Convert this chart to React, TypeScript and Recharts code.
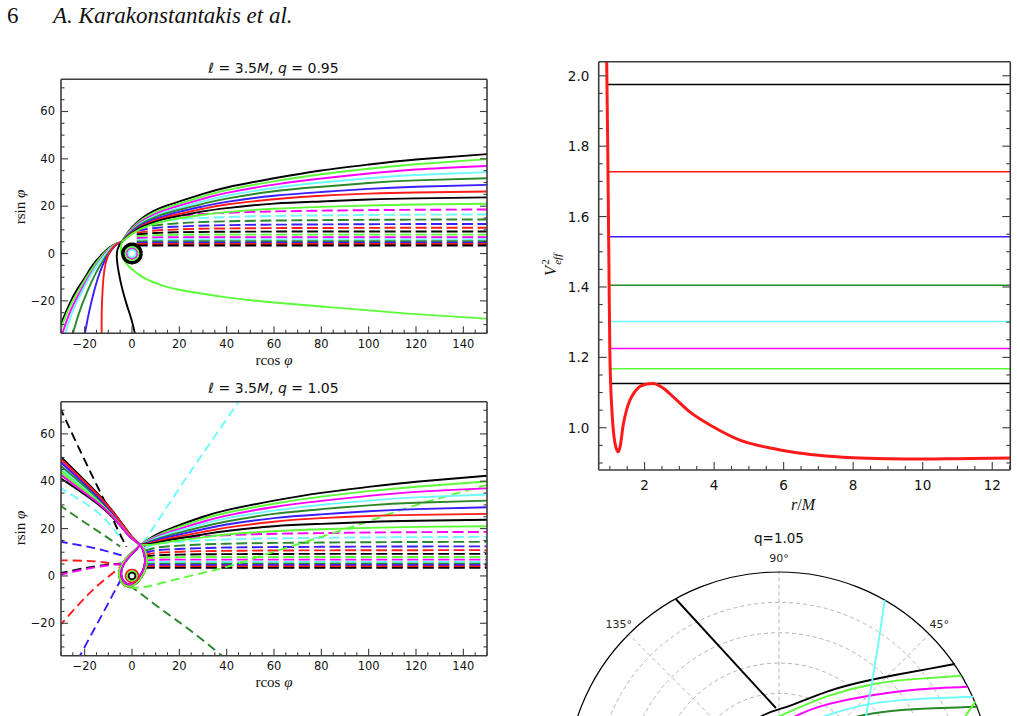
import React from 'react';
import { LineChart, Line, XAxis, YAxis, RadarChart, PolarGrid, PolarAngleAxis, PolarRadiusAxis } from 'recharts';

type P = [number, number];
type S = { pts: P[]; color: string; w?: number; dash?: string; curve?: any };

// ---------- colours ----------
const BLACK = '#000000';
const LIME = '#5cfc38';
const MAG = '#ff00ff';
const CYAN = '#6cfcfc';
const DGREEN = '#2a882a';
const BLUE = '#3a1cff';
const RED = '#ff1a1a';

// ---------- trajectory panels: axes ----------
const trajXDomain: [number, number] = [-30, 150];
const trajYDomain: [number, number] = [-33.7, 73.6];
const trajXMajor = [-20, 0, 20, 40, 60, 80, 100, 120, 140];
const trajXMinor = [-30, -25, -20, -15, -10, -5, 0, 5, 10, 15, 20, 25, 30, 35, 40, 45, 50, 55, 60, 65, 70, 75, 80, 85, 90, 95, 100, 105, 110, 115, 120, 125, 130, 135, 140, 145, 150];
const trajYMajor = [-20, 0, 20, 40, 60];
const trajYMinor = [-30, -25, -20, -15, -10, -5, 0, 5, 10, 15, 20, 25, 30, 35, 40, 45, 50, 55, 60, 65, 70];

// ---------- q = 0.95 ----------
const fanColors = [BLACK, LIME, MAG, CYAN, DGREEN, BLUE, RED, BLACK, LIME];
const q95FanX = [-4.4, -2, 0, 3, 7, 12, 20, 30, 40, 60, 80, 100, 120, 150];
const q95FanY = [
  [4.8, 8.5, 11, 14, 16.8, 19.3, 22, 25.2, 27.9, 31.8, 35.1, 37.6, 39.7, 42],
  [4.8, 8.3, 10.6, 13.4, 16, 18.4, 21.1, 24.1, 26.8, 30.5, 33.5, 35.8, 37.7, 39.9],
  [4.8, 8, 10.2, 12.9, 15.3, 17.6, 20.2, 23.1, 25.6, 29.1, 31.7, 33.8, 35.5, 37],
  [4.8, 7.8, 9.8, 12.4, 14.7, 16.9, 19.3, 22, 24.4, 27.7, 30, 31.8, 33.2, 34.4],
  [4.8, 7.6, 9.5, 11.9, 14.1, 16.2, 18.5, 21, 23.2, 26.3, 28.2, 29.8, 30.9, 31.8],
  [4.8, 7.4, 9.2, 11.4, 13.5, 15.4, 17.6, 19.9, 21.8, 24.4, 26, 27.3, 28.2, 29],
  [4.8, 7.2, 8.9, 11, 12.9, 14.7, 16.7, 18.9, 20.7, 22.9, 24.4, 25.3, 25.8, 26.2],
  [4.8, 7, 8.6, 10.6, 12.4, 14.1, 15.9, 17.8, 19.2, 21.1, 22, 22.8, 23.3, 23.7],
  [4.8, 6.8, 8.3, 10.1, 11.8, 13.3, 14.9, 16.4, 17.5, 18.9, 19.7, 20.3, 20.7, 21],
];
const q95InColors = [BLACK, LIME, MAG, CYAN, DGREEN, BLUE, RED, BLACK];
const q95InPts: P[][] = [
  [[-31, -32], [-26.5, -21.5], [-23.4, -15.5], [-20, -10.3], [-16.3, -4.5], [-12.5, -0.2], [-9.3, 2.7], [-6.5, 4.3], [-4.4, 4.8]],
  [[-30.5, -33], [-27, -24], [-23, -16.3], [-19, -9.7], [-15, -3.8], [-11, 0.9], [-7.5, 3.7], [-4.4, 4.8]],
  [[-29.8, -35], [-26.5, -25.5], [-22.5, -17.2], [-18.5, -10.2], [-14.5, -4.2], [-10.5, 0.9], [-7, 3.7], [-4.4, 4.8]],
  [[-28.5, -35], [-25.5, -25.5], [-21.5, -16.8], [-17.5, -9.3], [-13.5, -3.2], [-10, 1.1], [-7, 3.7], [-4.4, 4.8]],
  [[-25.3, -35], [-22.5, -25.5], [-19, -16.3], [-15.5, -8.7], [-12, -2.6], [-9, 1.4], [-6.5, 3.8], [-4.4, 4.8]],
  [[-20.1, -35], [-18.3, -25.5], [-16, -15.8], [-13.5, -7.7], [-11, -2.1], [-8.5, 1.7], [-6.5, 3.8], [-4.4, 4.8]],
  [[-12.8, -35], [-12.8, -25], [-12.4, -15], [-11.7, -7.2], [-10.4, -1.6], [-8.5, 2], [-6.5, 3.9], [-4.4, 4.8]],
  [[1.5, -35], [-0.2, -28], [-2.1, -22], [-4.1, -15], [-5.6, -8], [-6.4, -2], [-6, 2.1], [-4.4, 4.8]],
];
const q95LowerLime: P[] = [[-4.4, 4.8], [-4.6, 0.8], [-3.4, -2.6], [-1.2, -5.6], [2, -8.2], [6, -10.8], [12, -13.2], [20, -15.3], [40, -18.5], [60, -20.7], [80, -22.4], [100, -24], [120, -25.6], [150, -27.5]];

// dashed (nearly horizontal) trajectories, shared by both panels
const dashColors = [MAG, CYAN, DGREEN, BLUE, RED, BLACK, LIME, MAG, CYAN, DGREEN, BLUE, RED, BLACK];
const dashY = [
  [12.5, 14.6, 15.9, 17.2, 18.1, 18.6],
  [11.5, 13.3, 14.4, 15.4, 16.1, 16.5],
  [10.5, 11.9, 12.8, 13.6, 14.1, 14.4],
  [9.6, 10.8, 11.4, 12, 12.3, 12.5],
  [8.8, 9.7, 10.2, 10.6, 10.8, 10.9],
  [8.1, 8.7, 9, 9.2, 9.3, 9.3],
  [7.3, 7.7, 7.9, 8, 8, 8],
  [6.5, 6.8, 6.9, 6.9, 6.9, 6.9],
  [5.8, 5.9, 5.9, 5.9, 5.9, 5.9],
  [5.1, 5.2, 5.2, 5.2, 5.2, 5.2],
  [4.5, 4.6, 4.6, 4.6, 4.6, 4.6],
  [4, 4, 4, 4, 4, 4],
  [3.4, 3.4, 3.4, 3.4, 3.4, 3.4],
];
const q95DashX = [2, 10, 20, 40, 80, 150];
const q105DashX = [5, 10, 20, 40, 80, 150];

// small captured orbits (ring radii)
const unitCircle: P[] = [[1, 0], [0.866, 0.5], [0.5, 0.866], [0, 1], [-0.5, 0.866], [-0.866, 0.5], [-1, 0], [-0.866, -0.5], [-0.5, -0.866], [0, -1], [0.5, -0.866], [0.866, -0.5], [1, 0]];
const q95RingR = [4.1, 3.5, 2.7, 2.1, 1.6];
const q95RingC = [BLACK, BLACK, LIME, MAG, CYAN];
const q105RingR = [2.7, 2.0, 1.4];
const q105RingC = [RED, LIME, BLACK];

// ---------- q = 1.05 ----------
const bundleColors = [BLACK, LIME, MAG, CYAN, DGREEN, BLUE, RED, BLACK, LIME, MAG];
const q105InX = [-30, -22, -14, -8, -3, 0, 3.5];
const q105InY = [
  [50.3, 42.3, 34.2, 27.2, 20.5, 16.6, 13],
  [44.6, 38.3, 31.5, 25.4, 19.4, 16, 13],
  [48.4, 41, 33.3, 26.6, 20.1, 16.4, 13],
  [45.6, 39, 32, 25.7, 19.6, 16.1, 13],
  [46.4, 39.6, 32.4, 26, 19.8, 16.2, 13],
  [47.8, 40.6, 33, 26.4, 20, 16.3, 13],
  [49.4, 41.7, 33.8, 26.9, 20.3, 16.5, 13],
  [41.1, 35.8, 30, 24.5, 18.9, 15.7, 13],
  [43.5, 37.5, 31, 25.1, 19.2, 15.9, 13],
  [42.6, 36.6, 30.5, 24.8, 19, 15.8, 13],
];
const loopOuter: P[] = [[3.5, 13], [5.3, 10.8], [6.3, 7.5], [6, 4], [4.6, 0.5], [2.3, -2.6], [-0.5, -4.4], [-3.3, -3.8], [-5.1, -1.2], [-5.3, 2.2], [-3.8, 5.6], [-1.3, 8.6], [1.5, 11.2], [3.5, 13]];
const loopInner: P[] = [[3.5, 13], [4.8, 10.5], [5.5, 7.3], [5.2, 4], [4, 1], [2, -1.8], [-0.3, -3.4], [-2.8, -3], [-4.3, -0.8], [-4.5, 2.2], [-3.3, 5.3], [-1, 8.3], [1.6, 11], [3.5, 13]];
const q105FanX = [3.5, 7, 12, 20, 30, 40, 60, 80, 100, 120, 150];
const q105FanY = [
  [13, 15.5, 18.3, 21.5, 25, 27.8, 31.8, 35.1, 37.6, 39.8, 42.3],
  [13, 15.2, 17.7, 20.7, 24, 26.7, 30.5, 33.5, 35.8, 37.7, 39.9],
  [13, 14.9, 17.2, 19.9, 22.9, 25.5, 29.1, 31.7, 33.8, 35.5, 37],
  [13, 14.6, 16.7, 19.1, 21.9, 24.3, 27.6, 30, 31.8, 33.2, 34.4],
  [13, 14.3, 16.1, 18.3, 20.8, 23, 26.2, 28.2, 29.8, 30.9, 31.8],
  [13, 14, 15.6, 17.5, 19.7, 21.7, 24.4, 26, 27.3, 28.2, 29],
  [13, 13.7, 15, 16.7, 18.6, 20.4, 22.9, 24.4, 25.3, 25.8, 26.2],
  [13, 13.4, 14.4, 15.9, 17.5, 19, 21, 22, 22.8, 23.3, 23.7],
  [13, 13.1, 13.8, 15, 16.3, 17.5, 18.9, 19.7, 20.3, 20.7, 21],
];
const q105RayColors = [BLACK, CYAN, CYAN, DGREEN, DGREEN, BLUE, BLUE, RED, RED, BLACK, MAG, LIME];
const q105RayPts: P[][] = [
  [[-30.5, 71.3], [-21, 51], [-12.1, 32.6], [-6, 19.5], [-2.3, 12.3]],
  [[4.5, 13.5], [15, 29.5], [25, 44.5], [35, 59], [46, 75]],
  [[-31, 37.6], [-18, 29.5], [-10, 22.5], [-4, 15]],
  [[-31, 30.2], [-20, 22.6], [-12, 17.3], [-5, 12.4]],
  [[-1, -4], [5, -8.5], [15, -16], [25, -23.3], [38, -33.7], [40, -35.5]],
  [[-31, 14.6], [-20, 12.6], [-12, 10.8], [-4.4, 8.7]],
  [[-4.4, -1], [-8, -7.7], [-12, -15.2], [-16.5, -23.5], [-22, -33.7], [-23, -35.5]],
  [[-31, 6.6], [-20, 6.4], [-12, 5.8], [-4.4, 4.5]],
  [[-31, -21.5], [-22, -11.5], [-15, -4.5], [-9, 0.5], [-5, 3.6]],
  [[-31, 1.0], [-20, 3.3], [-12, 4.5], [-4.4, 5.3]],
  [[-31, 0.4], [-20, 2.8], [-12, 4.2], [-4.4, 5.1]],
  [[-1, -5], [5, -4.7], [11.8, -3.2], [20, -1.1], [30, 1.3], [40, 3.8], [50, 6.9], [60, 10.2], [80, 16.5], [100, 23.1], [120, 29.9], [151, 38.7]],
];

// ---------- effective potential ----------
const vXDomain: [number, number] = [0.68, 12.52];
const vYDomain: [number, number] = [0.88, 2.04];
const vXMajor = [2, 4, 6, 8, 10, 12];
const vXMinor = [1, 1.5, 2, 2.5, 3, 3.5, 4, 4.5, 5, 5.5, 6, 6.5, 7, 7.5, 8, 8.5, 9, 9.5, 10, 10.5, 11, 11.5, 12, 12.5];
const vYMajor = [1.0, 1.2, 1.4, 1.6, 1.8, 2.0];
const vYMinor = [0.9, 0.95, 1.0, 1.05, 1.1, 1.15, 1.2, 1.25, 1.3, 1.35, 1.4, 1.45, 1.5, 1.55, 1.6, 1.65, 1.7, 1.75, 1.8, 1.85, 1.9, 1.95, 2.0];
const vRedR = [0.895, 0.91, 0.94, 0.96, 0.98, 1.0, 1.02, 1.06, 1.1, 1.15, 1.2, 1.24, 1.3, 1.38, 1.48, 1.58, 1.7, 1.86, 2.05, 2.25, 2.5, 2.8, 3.3, 3.97, 4.74, 5.7, 6.2, 7, 8, 9, 10, 11, 12.52];
const vRedV = [2.2, 2.04, 1.8, 1.6, 1.4, 1.22, 1.136, 1.05, 0.993, 0.955, 0.937, 0.932, 0.948, 1.005, 1.05, 1.079, 1.1, 1.117, 1.124, 1.126, 1.115, 1.09, 1.045, 1.003, 0.965, 0.941, 0.932, 0.922, 0.915, 0.912, 0.911, 0.912, 0.914];
const energyLevels = [1.975, 1.727, 1.543, 1.405, 1.302, 1.225, 1.168, 1.126];
const energyColors = [BLACK, RED, BLUE, DGREEN, CYAN, MAG, LIME, BLACK];
const energyStartR = [0.905, 0.95, 0.955, 0.97, 0.99, 1.0, 1.01, 1.02];
const rMax = 12.52;

// ---------- polar panel (q = 1.05) ----------
const polarAngleLabels = ['0°', '45°', '90°', '135°', '180°', '225°', '270°', '315°'];
const polarRings = [1, 2, 3, 4, 5, 6];
const polarColors = [BLACK, BLACK, LIME, MAG, CYAN, DGREEN, LIME, CYAN];
const polarPts: P[][] = [
  [[-0.488, 0.873], [-0.017, 0.36]],
  [[-0.16, 0.27], [-0.074, 0.327], [0, 0.355], [0.067, 0.377], [0.224, 0.437], [0.381, 0.481], [0.538, 0.514], [0.695, 0.543], [0.825, 0.567]],
  [[-0.05, 0.3], [0.067, 0.351], [0.224, 0.415], [0.444, 0.473], [0.65, 0.497], [0.855, 0.512]],
  [[0.03, 0.3], [0.2, 0.37], [0.444, 0.421], [0.65, 0.447], [0.883, 0.46]],
  [[0.15, 0.3], [0.3, 0.35], [0.444, 0.382], [0.65, 0.402], [0.911, 0.413]],
  [[0.28, 0.3], [0.444, 0.335], [0.65, 0.355], [0.933, 0.366]],
  [[0.922, 0.39], [0.875, 0.322], [0.84, 0.27]],
  [[0.495, 0.868], [0.455, 0.6], [0.407, 0.322], [0.395, 0.24]],
];

// ---------- build series ----------
const toXY = (pts: P[]) => pts.map(([x, y]) => ({ x, y }));
const HDASH = '11 4.5';
const RDASH = '9 5';

const q95Lines: S[] = [
  ...dashY.map((ys, i) => ({ pts: q95DashX.map((x, j) => [x, ys[j]] as P), color: dashColors[i], dash: HDASH, curve: 'monotone' })),
  ...q95InPts.map((pts, i) => ({ pts, color: q95InColors[i] })),
  { pts: q95LowerLime, color: LIME },
  ...q95FanY.map((ys, i) => ({ pts: q95FanX.map((x, j) => [x, ys[j]] as P), color: fanColors[i] })),
  ...q95RingR.map((r, i) => ({ pts: unitCircle.map(([a, b]) => [a * r, b * r] as P), color: q95RingC[i], w: i === 0 ? 2.4 : 1.8 })),
];

const q105Lines: S[] = [
  ...dashY.map((ys, i) => ({ pts: q105DashX.map((x, j) => [x, ys[j]] as P), color: dashColors[i], dash: HDASH, curve: 'monotone' })),
  ...q105RayPts.map((pts, i) => ({ pts, color: q105RayColors[i], dash: RDASH })),
  ...q105InY.map((ys, i) => {
    const inPts = q105InX.map((x, j) => [x, ys[j]] as P);
    const loop = (i % 2 === 0 ? loopOuter : loopInner).slice(1);
    const out = q105FanY[i] ? q105FanX.map((x, j) => [x, q105FanY[i][j]] as P).slice(1) : [];
    return { pts: [...inPts, ...loop, ...out], color: bundleColors[i] };
  }),
  ...q105RingR.map((r, i) => ({ pts: unitCircle.map(([a, b]) => [a * r, b * r] as P), color: q105RingC[i], w: 1.8 })),
];

// ---------- styles ----------
const FRAME = '#3c3c3c';
const frameLine = { stroke: FRAME, strokeWidth: 1.6 };
const trajFont = { fontSize: 11.5, fontFamily: 'DejaVu Sans, sans-serif', fill: '#111' };
const vFont = { fontSize: 13.5, fontFamily: 'DejaVu Sans, sans-serif', fill: '#111' };
const minus = (v: number) => String(v).replace('-', '\u2212');

type TickOpt = { side: 'b' | 't' | 'l' | 'r'; majors: number[]; majLen: number; minLen: number; fmt?: (v: number) => string; font?: any; gap?: number };
const makeTick = (o: TickOpt) => (props: any) => {
  const { x, y, payload } = props;
  const v = Number(payload.value);
  const major = o.majors.some((m) => Math.abs(m - v) < 1e-6);
  const L = major ? o.majLen : o.minLen;
  let x2 = x, y2 = y;
  if (o.side === 'b') y2 = y - L;
  else if (o.side === 't') y2 = y + L;
  else if (o.side === 'l') x2 = x + L;
  else x2 = x - L;
  return (
    <g>
      <line x1={x} y1={y} x2={x2} y2={y2} stroke={FRAME} strokeWidth={1.1} />
      {o.fmt && major && o.side === 'b' && (
        <text x={x} y={y + (o.gap ?? 0)} textAnchor="middle" dominantBaseline="central" {...o.font}>{o.fmt(v)}</text>
      )}
      {o.fmt && major && o.side === 'l' && (
        <text x={x - (o.gap ?? 0)} y={y} textAnchor="end" dominantBaseline="central" {...o.font}>{o.fmt(v)}</text>
      )}
    </g>
  );
};

const axisCommon = { tickSize: 0, tickMargin: 0, interval: 0 as const, minTickGap: 0, tickLine: false, axisLine: frameLine, allowDataOverflow: true };

function TrajChart({ lines, top }: { lines: S[]; top: number }) {
  return (
    <LineChart width={500} height={320} margin={{ top: top - 1, right: 12, bottom: 320 - (top + 254) - 1, left: 60 }}>
      <XAxis {...axisCommon} type="number" dataKey="x" domain={trajXDomain} ticks={trajXMinor} height={1}
        tick={makeTick({ side: 'b', majors: trajXMajor, majLen: 7, minLen: 3.5, fmt: minus, font: trajFont, gap: 10.3 })} />
      <XAxis {...axisCommon} xAxisId="t" orientation="top" type="number" domain={trajXDomain} ticks={trajXMinor} height={1}
        tick={makeTick({ side: 't', majors: trajXMajor, majLen: 7, minLen: 3.5 })} />
      <YAxis {...axisCommon} type="number" domain={trajYDomain} ticks={trajYMinor} width={1}
        tick={makeTick({ side: 'l', majors: trajYMajor, majLen: 7, minLen: 3.5, fmt: minus, font: trajFont, gap: 6 })} />
      <YAxis {...axisCommon} yAxisId="r" orientation="right" type="number" domain={trajYDomain} ticks={trajYMinor} width={1}
        tick={makeTick({ side: 'r', majors: trajYMajor, majLen: 7, minLen: 3.5 })} />
      {lines.map((s, i) => (
        <Line key={i} data={toXY(s.pts)} dataKey="y" type={s.curve ?? 'natural'} stroke={s.color} strokeWidth={s.w ?? 1.9}
          strokeDasharray={s.dash} dot={false} activeDot={false} isAnimationActive={false} />
      ))}
    </LineChart>
  );
}

function VeffChart() {
  return (
    <LineChart width={477} height={480} margin={{ top: 20.7, right: 5.7, bottom: 49, left: 57.7 }}>
      <XAxis {...axisCommon} type="number" dataKey="x" domain={vXDomain} ticks={vXMinor} height={1}
        tick={makeTick({ side: 'b', majors: vXMajor, majLen: 8, minLen: 4, fmt: (v) => String(v), font: vFont, gap: 15 })} />
      <XAxis {...axisCommon} xAxisId="t" orientation="top" type="number" domain={vXDomain} ticks={vXMinor} height={1}
        tick={makeTick({ side: 't', majors: vXMajor, majLen: 8, minLen: 4 })} />
      <YAxis {...axisCommon} type="number" domain={vYDomain} ticks={vYMinor} width={1}
        tick={makeTick({ side: 'l', majors: vYMajor, majLen: 8, minLen: 4, fmt: (v) => v.toFixed(1), font: vFont, gap: 9.4 })} />
      <YAxis {...axisCommon} yAxisId="r" orientation="right" type="number" domain={vYDomain} ticks={vYMinor} width={1}
        tick={makeTick({ side: 'r', majors: vYMajor, majLen: 8, minLen: 4 })} />
      {energyLevels.map((v, i) => (
        <Line key={'e' + i} data={[{ x: energyStartR[i], y: v }, { x: rMax, y: v }]} dataKey="y" type="linear"
          stroke={energyColors[i]} strokeWidth={1.5} dot={false} activeDot={false} isAnimationActive={false} />
      ))}
      <Line data={vRedR.map((r, i) => ({ x: r, y: vRedV[i] }))} dataKey="y" type="monotone" stroke={RED} strokeWidth={3}
        dot={false} activeDot={false} isAnimationActive={false} />
    </LineChart>
  );
}

const PolarTick = (props: any) => {
  const { x, y, payload } = props;
  if (y > 190) return <g />;
  return (
    <text x={x} y={y} textAnchor="middle" dominantBaseline="central" fontFamily="DejaVu Sans, sans-serif" fontSize={11} fill="#262626">
      {payload.value}
    </text>
  );
};

function PolarGridChart() {
  return (
    <RadarChart width={440} height={480} cx={219} cy={264.5} outerRadius={212.5} startAngle={45} endAngle={405}
      data={polarAngleLabels.map((label) => ({ label }))} margin={{ top: 0, right: 0, bottom: 0, left: 0 }}>
      <PolarGrid gridType="circle" stroke="#b5b5b5" strokeDasharray="4 3" strokeWidth={1} />
      <PolarAngleAxis dataKey="label" axisLineType="circle" axisLine={{ stroke: '#000', strokeWidth: 1.2 }} tickLine={false}
        tickSize={14} tick={(p: any) => <PolarTick {...p} />} />
      <PolarRadiusAxis type="number" domain={[0, 7]} ticks={polarRings} allowDataOverflow tick={false} axisLine={false} />
    </RadarChart>
  );
}

function PolarCurves() {
  return (
    <LineChart width={425} height={425} margin={{ top: 0, right: 0, bottom: 0, left: 0 }}>
      <XAxis type="number" dataKey="x" domain={[-1, 1]} allowDataOverflow hide height={0} />
      <YAxis type="number" domain={[-1, 1]} allowDataOverflow hide width={0} />
      {polarPts.map((pts, i) => (
        <Line key={i} data={toXY(pts)} dataKey="y" type={pts.length > 2 ? 'natural' : 'linear'} stroke={polarColors[i]}
          strokeWidth={1.9} dot={false} activeDot={false} isAnimationActive={false} />
      ))}
    </LineChart>
  );
}

const Txt = ({ x, y, children, style, rot }: { x: number; y: number; children: any; style?: any; rot?: boolean }) => (
  <div style={{ position: 'absolute', left: x, top: y, transform: `translate(-50%,-50%)${rot ? ' rotate(-90deg)' : ''}`, whiteSpace: 'nowrap', lineHeight: 1, ...style }}>
    {children}
  </div>
);

const serif = { fontFamily: 'Liberation Serif, serif', fontSize: 15, color: '#111' };
const sans = { fontFamily: 'DejaVu Sans, sans-serif', fontSize: 14, color: '#111' };

export default function App() {
  return (
    <div style={{ position: 'fixed', left: 0, top: 0, width: 1017, height: 716, overflow: 'hidden', background: '#fff', fontFamily: 'Liberation Serif, serif' }}>
      <div style={{ position: 'absolute', left: 7, top: 4, fontSize: 23, lineHeight: 1, color: '#111' }}>6</div>
      <div style={{ position: 'absolute', left: 53, top: 4, fontSize: 23, lineHeight: 1, fontStyle: 'italic', color: '#111' }}>A. Karakonstantakis et al.</div>

      <div style={{ position: 'absolute', left: 0, top: 50 }}><TrajChart lines={q95Lines} top={29.3} /></div>
      <div style={{ position: 'absolute', left: 0, top: 372 }}><TrajChart lines={q105Lines} top={29.7} /></div>
      <div style={{ position: 'absolute', left: 540, top: 40 }}><VeffChart /></div>
      <div style={{ position: 'absolute', left: 560, top: 520 }}><PolarGridChart /></div>
      <div style={{ position: 'absolute', left: 566.5, top: 572 }}><PolarCurves /></div>

      <Txt x={273.5} y={67.5} style={sans}>ℓ = 3.5<i>M</i>, <i>q</i> = 0.95</Txt>
      <Txt x={273.5} y={388.3} style={sans}>ℓ = 3.5<i>M</i>, <i>q</i> = 1.05</Txt>
      <Txt x={274} y={359.5} style={serif}>rcos <i>φ</i></Txt>
      <Txt x={274} y={681.7} style={serif}>rcos <i>φ</i></Txt>
      <Txt x={20} y={207} rot style={serif}>rsin <i>φ</i></Txt>
      <Txt x={20} y={528} rot style={serif}>rsin <i>φ</i></Txt>
      <Txt x={551.5} y={265} rot style={{ ...serif, fontSize: 17 }}>
        <i>V</i>
        <span style={{ display: 'inline-flex', flexDirection: 'column', verticalAlign: 'middle', fontSize: 11, lineHeight: 1.05, marginLeft: 1 }}>
          <span>2</span><i>eff</i>
        </span>
      </Txt>
      <Txt x={803} y={505} style={{ ...serif, fontSize: 16 }}><i>r</i>/<i>M</i></Txt>
      <Txt x={779} y={539} style={{ fontFamily: 'DejaVu Sans, sans-serif', fontSize: 13.5, color: '#111' }}>q=1.05</Txt>
    </div>
  );
}
